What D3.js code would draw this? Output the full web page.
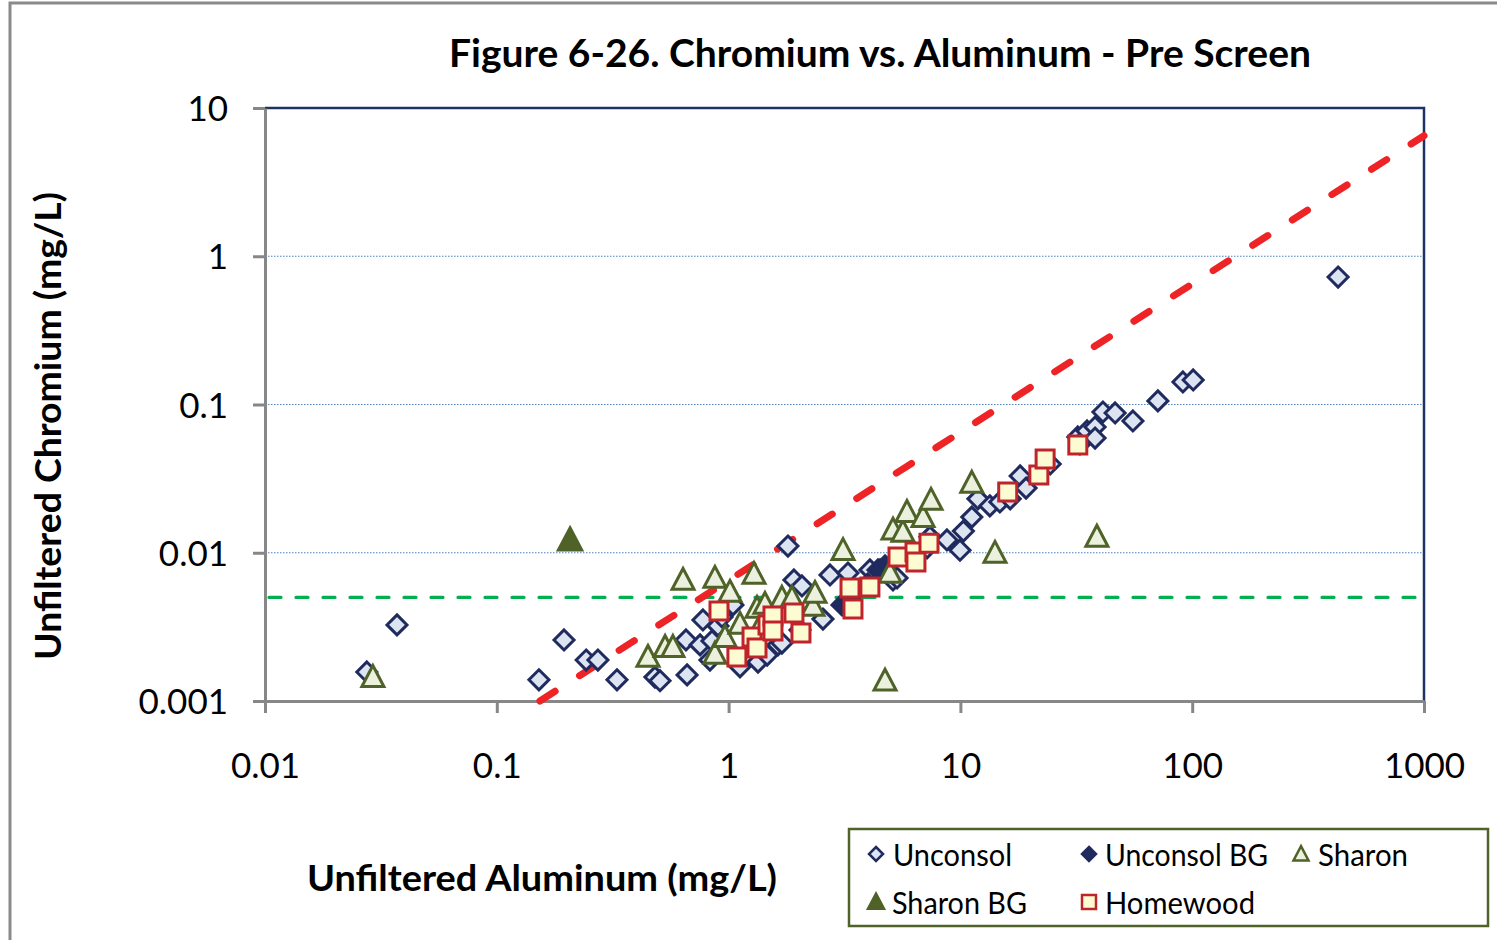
<!DOCTYPE html>
<html><head><meta charset="utf-8">
<script src="https://cdn.jsdelivr.net/npm/d3@7"></script>
<style>
body{margin:0;background:#fff}
svg{display:block}
text{font-family:Lato,"Open Sans",sans-serif;fill:#000}
</style>
</head><body>
<svg id="chart" width="1497" height="940"></svg>
<script>
// Axis ticks
const xTicks = [0.01, 0.1, 1, 10, 100, 1000];
const xTickLabels = ["0.01", "0.1", "1", "10", "100", "1000"];
const yTicks = [0.001, 0.01, 0.1, 1, 10];
const yTickLabels = ["0.001", "0.01", "0.1", "1", "10"];
const gridValues = [0.01, 0.1, 1];

// Reference lines
const screenLevel = 0.005;               // horizontal screening level (mg/L)
const ratioLine = [[0.1535, 0.001], [1000, 6.5]];  // Cr = 0.0065 x Al

// Samples: [Aluminum mg/L, Chromium mg/L]
const unconsol = [
  [0.0275,0.00157],[0.0371,0.00326],[0.152,0.00139],[0.195,0.00258],[0.243,0.00189],
  [0.273,0.00189],[0.330,0.00139],[0.481,0.00145],[0.506,0.00137],[0.662,0.00150],
  [0.655,0.00258],[0.753,0.00239],[0.775,0.00352],[0.848,0.00254],[0.900,0.00321],
  [0.831,0.00189],[0.937,0.00369],[1.044,0.00445],[1.12,0.00170],[1.339,0.00183],
  [1.466,0.00204],[1.633,0.00239],[1.698,0.00246],[1.803,0.0111],[1.914,0.00655],
  [2.073,0.00597],[2.032,0.00301],[2.553,0.00357],[2.738,0.00708],[3.273,0.00730],
  [4.07,0.00766],[4.50,0.00766],[5.12,0.00655],[5.33,0.00676],[7.18,0.0108],
  [7.39,0.0128],[8.75,0.0122],[9.96,0.0104],[10.3,0.0140],[11.2,0.0174],
  [11.9,0.0231],[13.4,0.0207],[14.8,0.0220],[16.4,0.0231],[18.1,0.0330],
  [19.2,0.0273],[24.4,0.0397],[32.1,0.0604],[32.8,0.0542],[35.2,0.0663],
  [38.1,0.0705],[38.1,0.0594],[41.2,0.0890],[46.5,0.0877],[55.5,0.0774],
  [71.1,0.1057],[91.2,0.1419],[101,0.1464],[426,0.724]
];
const unconsolBG = [
  [3.085,0.00445],[3.34,0.00496],[3.99,0.00616],[4.41,0.00766],[4.73,0.00815]
];
const sharon = [
  [0.0292,0.00145],[0.449,0.00198],[0.532,0.00231],[0.575,0.00231],[0.636,0.00655],
  [0.873,0.00676],[1.287,0.00719],[1.014,0.00544],[0.873,0.00208],[0.965,0.00270],
  [1.12,0.00331],[1.326,0.00424],[1.435,0.00451],[1.698,0.00496],[1.877,0.00496],
  [2.312,0.00438],[2.359,0.00535],[3.116,0.0104],[4.97,0.00730],[5.12,0.0143],
  [5.65,0.0138],[5.88,0.0188],[6.90,0.0174],[7.47,0.0227],[11.2,0.0296],
  [14.1,0.00997],[38.8,0.0128],[4.73,0.00137],[1.339,0.00301]
];
const sharonBG = [[0.207,0.0122]];
const homewood = [
  [0.909,0.00405],[1.086,0.00198],[1.262,0.00270],[1.326,0.00228],[1.479,0.00326],
  [1.554,0.00375],[1.554,0.00297],[1.914,0.00393],[2.052,0.00288],[3.34,0.00579],
  [3.44,0.00418],[4.07,0.00588],[5.38,0.00937],[6.37,0.0101],[6.43,0.00867],
  [7.32,0.0116],[16.0,0.0257],[21.8,0.0335],[23.2,0.0429],[32.1,0.0533]
];

const legendNames = ["Unconsol", "Unconsol BG", "Sharon", "Sharon BG", "Homewood"];

// Marker shapes
const shapes = {
  diamond: r => `M0,${-r}L${r},0L0,${r}L${-r},0Z`,
  triangle: r => `M0,${-r*1.05}L${r},${r*0.85}L${-r},${r*0.85}Z`,
  square: r => `M${-r},${-r}H${r}V${r}H${-r}Z`
};
const styles = [
  {data: unconsol,   shape: "diamond",  r: 10, fill: "#dce3f1", stroke: "#1f2a5e", sw: 3},
  {data: unconsolBG, shape: "diamond",  r: 10, fill: "#1f2a5e", stroke: "#1f2a5e", sw: 3},
  {data: sharon,     shape: "triangle", r: 11, fill: "#ebf1de", stroke: "#4f6228", sw: 3},
  {data: sharonBG,   shape: "triangle", r: 12.5, fill: "#4f6228", stroke: "#4f6228", sw: 2},
  {data: homewood,   shape: "square",   r: 9,  fill: "#fdfbd2", stroke: "#c0242b", sw: 3}
];

const svg = d3.select("#chart");
const x = d3.scaleLog().domain([0.01, 1000]).range([265, 1424]);
const y = d3.scaleLog().domain([0.001, 10]).range([701, 108]);

// Outer frame
svg.append("path").attr("d", "M10,940V3H1497")
  .attr("fill", "none").attr("stroke", "#8a8a8a").attr("stroke-width", 3);

// Title
svg.append("text").attr("x", 880).attr("y", 67).attr("text-anchor", "middle")
  .attr("font-size", 39).attr("font-weight", 700)
  .attr("textLength", 862).attr("lengthAdjust", "spacingAndGlyphs")
  .text("Figure 6-26. Chromium vs. Aluminum - Pre Screen");

// Gridlines
svg.append("g").selectAll("line").data(gridValues).join("line")
  .attr("x1", x(0.01)).attr("x2", x(1000))
  .attr("y1", d => y(d)).attr("y2", d => y(d))
  .attr("stroke", "#4f81bd").attr("stroke-width", 1.2).attr("stroke-dasharray", "1.5 1.5");

// Top and right frame of plot area
svg.append("path").attr("d", `M${x(0.01)},${y(10)}H${x(1000)}V${y(0.001)}`)
  .attr("fill", "none").attr("stroke", "#1f3264").attr("stroke-width", 2.5);

// Axes
const xAxis = svg.append("g").attr("transform", `translate(0,${y(0.001)})`)
  .call(d3.axisBottom(x).tickValues(xTicks).tickFormat((d, i) => xTickLabels[i])
    .tickSize(12).tickSizeOuter(0));
const yAxis = svg.append("g").attr("transform", `translate(${x(0.01)},0)`)
  .call(d3.axisLeft(y).tickValues(yTicks).tickFormat((d, i) => yTickLabels[i])
    .tickSize(12).tickSizeOuter(0));
[xAxis, yAxis].forEach(g => {
  g.select(".domain").attr("stroke", "#878787").attr("stroke-width", 3);
  g.selectAll(".tick line").attr("stroke", "#878787").attr("stroke-width", 3);
  g.selectAll(".tick text").attr("font-size", 35).attr("font-family", "Lato, sans-serif").attr("fill", "#000");
});
xAxis.selectAll(".tick text").attr("y", 77).attr("dy", 0);
yAxis.selectAll(".tick text").attr("x", -37).attr("dy", "0.36em");

// Screening level
svg.append("line")
  .attr("x1", x(0.01) + 4).attr("x2", x(1000))
  .attr("y1", y(screenLevel)).attr("y2", y(screenLevel))
  .attr("stroke", "#00b050").attr("stroke-width", 3.2)
  .attr("stroke-linecap", "round").attr("stroke-dasharray", "12 15");

// 1:1 ratio line (log-log)
svg.append("path")
  .attr("d", d3.line().x(d => x(d[0])).y(d => y(d[1]))(ratioLine))
  .attr("fill", "none").attr("stroke", "#ee2326").attr("stroke-width", 7)
  .attr("stroke-linecap", "round").attr("stroke-dasharray", "18 29");

// Data markers
styles.forEach(s => {
  svg.append("g").selectAll("path").data(s.data).join("path")
    .attr("transform", d => `translate(${x(d[0])},${y(d[1])})`)
    .attr("d", shapes[s.shape](s.r))
    .attr("fill", s.fill).attr("stroke", s.stroke).attr("stroke-width", s.sw)
    .attr("stroke-linejoin", "miter");
});

// Axis titles
svg.append("text").attr("x", 542).attr("y", 891).attr("text-anchor", "middle")
  .attr("font-size", 37).attr("font-weight", 700)
  .attr("textLength", 470).attr("lengthAdjust", "spacingAndGlyphs")
  .text("Unfiltered Aluminum (mg/L)");
svg.append("text").attr("transform", "translate(61,426) rotate(-90)")
  .attr("text-anchor", "middle")
  .attr("font-size", 37).attr("font-weight", 700)
  .attr("textLength", 468).attr("lengthAdjust", "spacingAndGlyphs")
  .text("Unfiltered Chromium (mg/L)");

// Legend
const legend = svg.append("g");
legend.append("rect").attr("x", 849).attr("y", 829).attr("width", 639).attr("height", 97)
  .attr("fill", "#fff").attr("stroke", "#4f6228").attr("stroke-width", 2.5);
const legendPos = [
  {mx: 876, tx: 893, cy: 854, w: 119},
  {mx: 1089, tx: 1105, cy: 854, w: 163},
  {mx: 1301, tx: 1318, cy: 854, w: 90},
  {mx: 876, tx: 892, cy: 902, w: 135},
  {mx: 1089, tx: 1105, cy: 902, w: 150}
];
const legendR = [7, 7, 7.5, 8, 7];
legendNames.forEach((name, i) => {
  const s = styles[i], p = legendPos[i];
  legend.append("path").attr("transform", `translate(${p.mx},${p.cy})`)
    .attr("d", shapes[s.shape](legendR[i]))
    .attr("fill", s.fill).attr("stroke", s.stroke).attr("stroke-width", 2.5);
  legend.append("text").attr("x", p.tx).attr("y", p.cy + 12)
    .attr("font-size", 31)
    .attr("textLength", p.w).attr("lengthAdjust", "spacingAndGlyphs")
    .text(name);
});
</script>
</body></html>
